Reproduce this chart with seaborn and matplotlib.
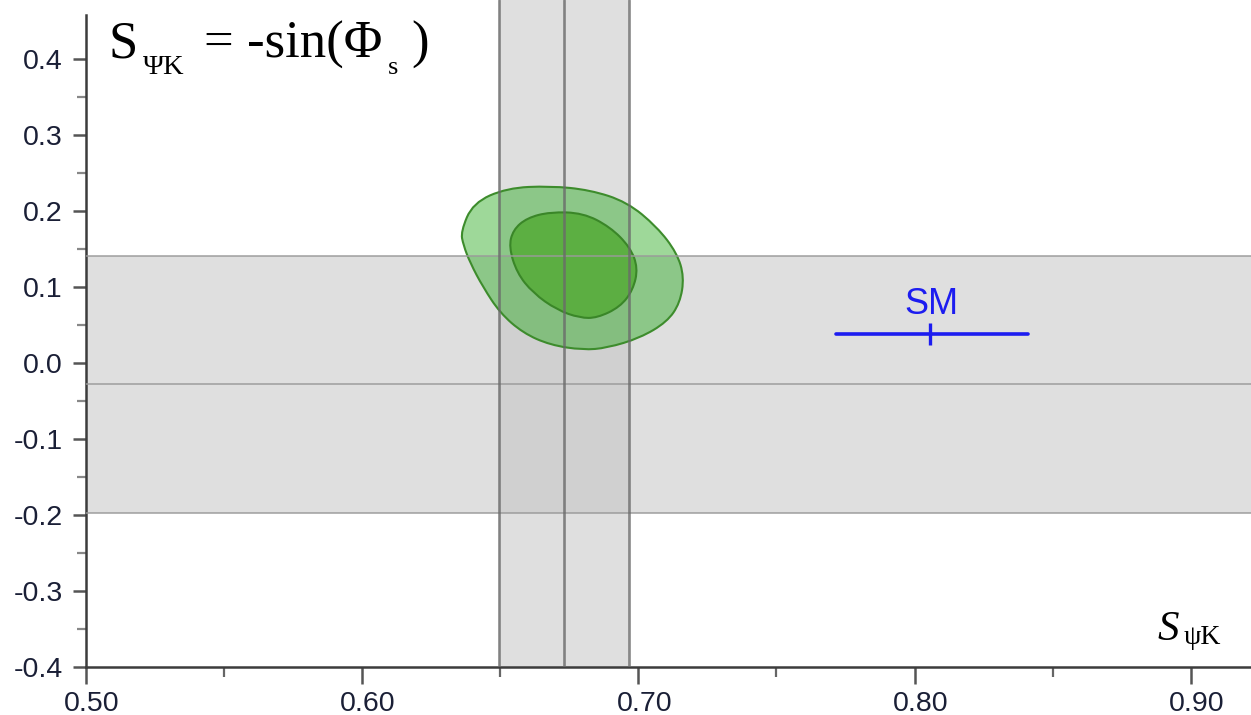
import numpy as np
import pandas as pd
import matplotlib
matplotlib.use("Agg")
import matplotlib.pyplot as plt
from matplotlib.path import Path
from matplotlib.patches import PathPatch
from matplotlib.transforms import ScaledTranslation
from matplotlib.ticker import MultipleLocator, FixedLocator, FixedFormatter
import seaborn as sns

# ---- data -------------------------------------------------------------
# measured S_psiK band (central value and half width)
s_psik_central = 0.673
s_psik_halfwidth = 0.0235
# measured -sin(phi_s) band
sin_phis_central = -0.028
sin_phis_halfwidth = 0.169

# Standard Model point
sm_x = 0.8055
sm_x_lo = 0.7715
sm_x_hi = 0.841
sm_y = 0.038
sm_label = "SM"

# fit contours (outer = larger CL region, inner = smaller CL region)
outer_x = [0.6358, 0.6402, 0.6525, 0.6681, 0.6825, 0.6959, 0.7068, 0.7140, 0.7166, 0.7151,
           0.7104, 0.7006, 0.6887, 0.6800, 0.6681, 0.6583, 0.6500, 0.6438, 0.6392, 0.6367]
outer_y = [0.1731, 0.2109, 0.2306, 0.2332, 0.2280, 0.2122, 0.1793, 0.1450, 0.1134, 0.0792,
           0.0542, 0.0331, 0.0200, 0.0173, 0.0239, 0.0397, 0.0660, 0.1003, 0.1319, 0.1556]
inner_x = [0.6681, 0.6800, 0.6898, 0.6970, 0.6999, 0.6981, 0.6934, 0.6851, 0.6789, 0.6706,
           0.6619, 0.6561, 0.6532, 0.6547, 0.6597]
inner_y = [0.1990, 0.1977, 0.1793, 0.1529, 0.1253, 0.0963, 0.0739, 0.0595, 0.0595, 0.0700,
           0.0924, 0.1187, 0.1529, 0.1753, 0.1911]

x_ticks = [0.50, 0.60, 0.70, 0.80, 0.90]
x_tick_labels = ["0.50", "0.60", "0.70", "0.80", "0.90"]
y_ticks = [0.4, 0.3, 0.2, 0.1, 0.0, -0.1, -0.2, -0.3, -0.4]
y_tick_labels = ["0.4", "0.3", "0.2", "0.1", "0.0", "-0.1", "-0.2", "-0.3", "-0.4"]

# ---- style ------------------------------------------------------------
sns.set_style("white")
plt.rcParams["font.family"] = ["Liberation Sans", "DejaVu Sans"]

W, H = 1251, 715
fig = plt.figure(figsize=(W / 100, H / 100), dpi=100)
ax = fig.add_axes([85.5 / W, (H - 667) / H, 1 - 85.5 / W, 667 / H])
ax.set_xlim(0.5, 0.9217)
ax.set_ylim(-0.4, 0.478)

# ---- bands ------------------------------------------------------------
band_color = "#c3c3c3"
band_alpha = 0.53
ax.axvspan(s_psik_central - s_psik_halfwidth, s_psik_central + s_psik_halfwidth,
           color=band_color, alpha=band_alpha, lw=0, zorder=1)
ax.axhspan(sin_phis_central - sin_phis_halfwidth, sin_phis_central + sin_phis_halfwidth,
           color=band_color, alpha=band_alpha, lw=0, zorder=1)

for yv in (sin_phis_central - sin_phis_halfwidth, sin_phis_central, sin_phis_central + sin_phis_halfwidth):
    ax.axhline(yv, color="#9a9a9a", lw=1.4, alpha=0.75, zorder=4)
for xv in (s_psik_central - s_psik_halfwidth, s_psik_central, s_psik_central + s_psik_halfwidth):
    ax.axvline(xv, color="#6a6a6a", lw=1.9, alpha=0.8, zorder=4)


# ---- contours ---------------------------------------------------------
def closed_smooth_path(xs, ys):
    pts = np.column_stack([xs, ys])
    n = len(pts)
    mids = [(pts[i] + pts[(i + 1) % n]) / 2 for i in range(n)]
    verts = [mids[-1]]
    codes = [Path.MOVETO]
    for i in range(n):
        verts += [pts[i], mids[i]]
        codes += [Path.CURVE3, Path.CURVE3]
    verts.append(mids[-1])
    codes.append(Path.CLOSEPOLY)
    return Path(np.array(verts), codes)


ax.add_patch(PathPatch(closed_smooth_path(outer_x, outer_y), facecolor=(40 / 255, 170 / 255, 30 / 255),
                       alpha=0.45, edgecolor="none", zorder=2))
ax.add_patch(PathPatch(closed_smooth_path(outer_x, outer_y), facecolor="none",
                       edgecolor="#3d8c2c", lw=1.5, zorder=3))
ax.add_patch(PathPatch(closed_smooth_path(inner_x, inner_y), facecolor="#5aae3f",
                       alpha=0.95, edgecolor="none", zorder=2.5))
ax.add_patch(PathPatch(closed_smooth_path(inner_x, inner_y), facecolor="none",
                       edgecolor="#3a8628", lw=1.5, zorder=3))

# ---- Standard Model point -------------------------------------------
sm_df = pd.DataFrame({"x": [sm_x_lo, sm_x_hi], "y": [sm_y, sm_y]})
sns.lineplot(data=sm_df, x="x", y="y", color="#1c1cf0", lw=2.6, ax=ax, zorder=5)
sns.scatterplot(x=[sm_x], y=[sm_y], marker="|", s=260, linewidth=2.4, color="#1c1cf0", ax=ax, zorder=5)
ax.annotate(sm_label, (sm_x, sm_y), xytext=(1.5, 9), textcoords="offset points",
            ha="center", va="bottom", fontsize=26, color="#1c1cf0", zorder=6)

# ---- axes -------------------------------------------------------------
ax.set_xlabel("")
ax.set_ylabel("")
for side in ("top", "right"):
    ax.spines[side].set_visible(False)
for side in ("left", "bottom"):
    ax.spines[side].set_color("#3c3c3c")
    ax.spines[side].set_linewidth(1.8)
ax.spines["left"].set_bounds(-0.4, 0.458)

ax.xaxis.set_major_locator(FixedLocator(x_ticks))
ax.xaxis.set_major_formatter(FixedFormatter(x_tick_labels))
ax.xaxis.set_minor_locator(MultipleLocator(0.05))
ax.yaxis.set_major_locator(FixedLocator(y_ticks))
ax.yaxis.set_major_formatter(FixedFormatter(y_tick_labels))
ax.yaxis.set_minor_locator(FixedLocator([0.35, 0.25, 0.15, 0.05, -0.05, -0.15, -0.25, -0.35]))

ax.tick_params(axis="both", which="both", bottom=True, left=True, top=False, right=False)
ax.tick_params(axis="x", which="major", direction="out", length=12.5, width=1.8,
               color="#555555", labelsize=20.5, labelcolor="#1a1f36", pad=4.5)
ax.tick_params(axis="x", which="minor", direction="out", length=7.5, width=1.6, color="#666666")
ax.tick_params(axis="y", which="major", direction="out", length=9.5, width=1.8,
               color="#555555", labelsize=20.5, labelcolor="#1a1f36", pad=7)
ax.tick_params(axis="y", which="minor", direction="out", length=6.5, width=1.6, color="#888888")

# nudge the x tick labels slightly to the right of their ticks
nudge = ScaledTranslation(6 / 100, 0, fig.dpi_scale_trans)
for lbl in ax.get_xticklabels():
    lbl.set_transform(lbl.get_transform() + nudge)

# ---- text -------------------------------------------------------------
serif = ["Liberation Serif", "DejaVu Serif"]


def px_text(x, y, s, size, **kw):
    fig.text(x / W, 1 - y / H, s, fontsize=size, family=serif, va="baseline", ha="left",
             color="black", **kw)


px_text(108, 58, "S", 38)
px_text(143, 74, "\u03a8K", 20.5)
px_text(204, 58, "= -sin(\u03a6", 38)
px_text(388, 74, "s", 19)
px_text(411, 58, ")", 38)

px_text(1157, 640, "S", 31, style="italic")
px_text(1184, 644, "\u03c8K", 20)

fig.savefig("out.png", dpi=100)
